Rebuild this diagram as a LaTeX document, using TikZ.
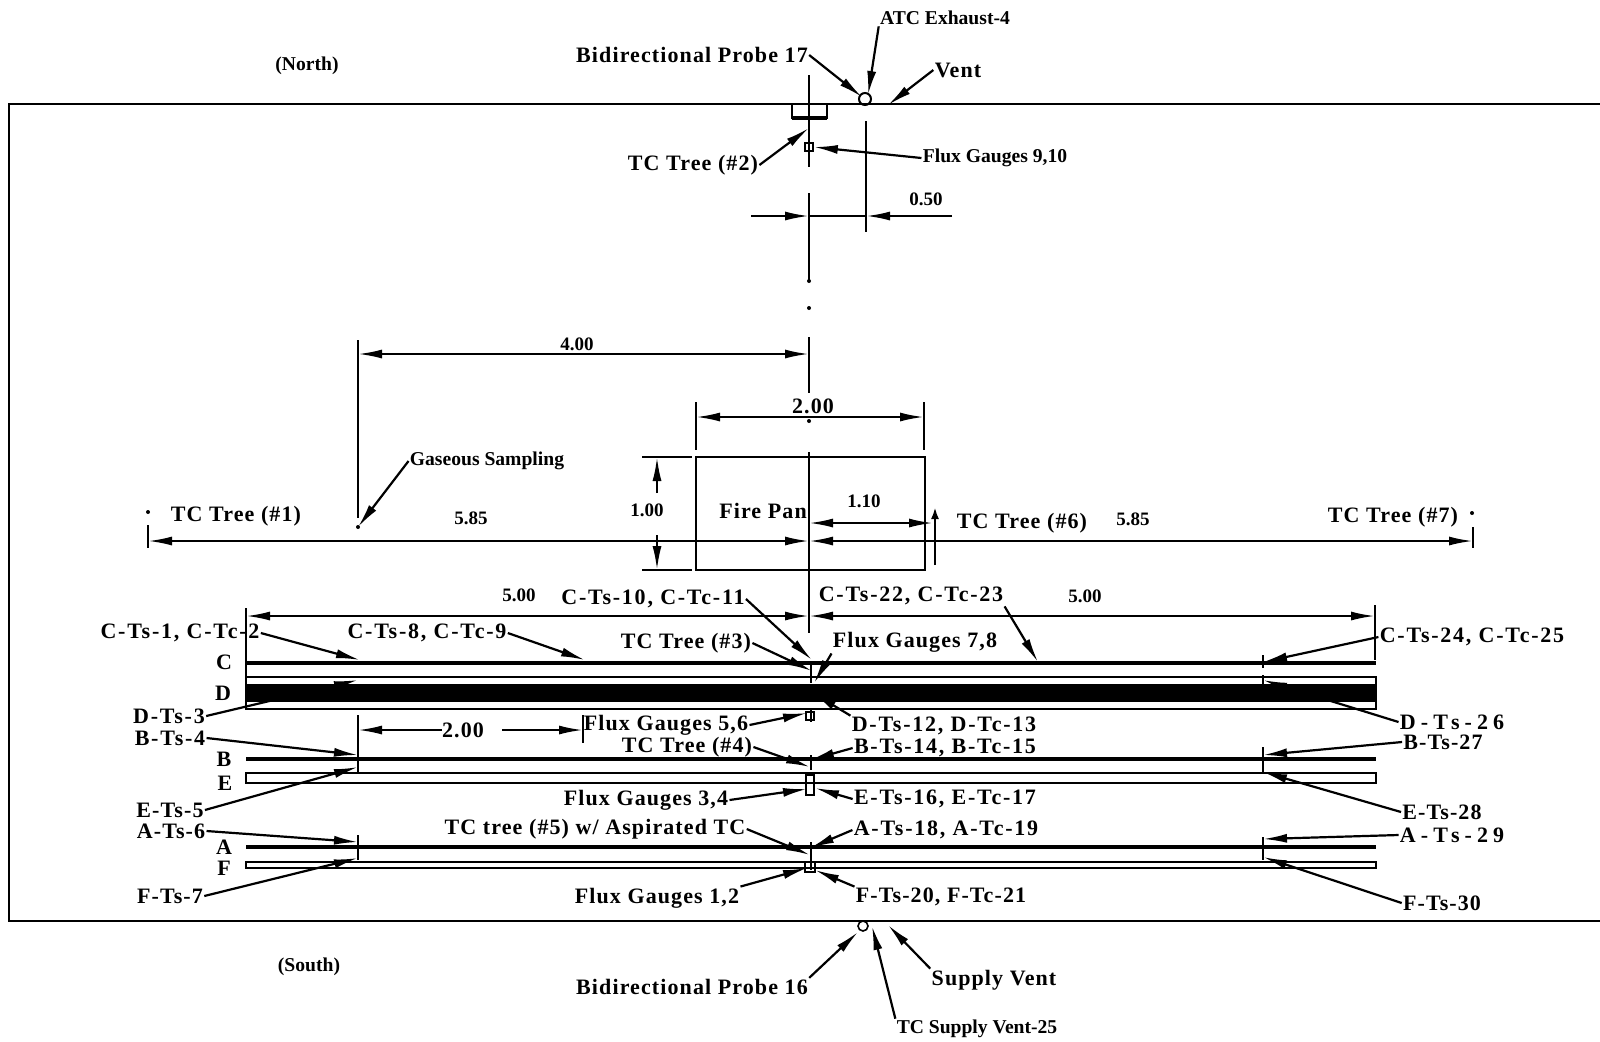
\documentclass[tikz,border=0pt]{standalone}
\usepackage{fontspec}
\setmainfont{Liberation Serif}
\newfontfamily\widefont[LetterSpace=5]{Liberation Serif}
\newfontfamily\tagfont[LetterSpace=8]{Liberation Serif}
\newfontfamily\tagwfont[LetterSpace=23]{Liberation Serif}
\usetikzlibrary{arrows.meta}
\tikzstyle{labelb}=[inner sep=0.5pt,font=\fontsize{11}{12}\widefont\bfseries]
\tikzstyle{labelt}=[inner sep=0.5pt,font=\fontsize{11}{12}\tagfont\bfseries]
\tikzstyle{labelw}=[inner sep=0.5pt,font=\fontsize{11}{12}\tagwfont\bfseries]
\tikzstyle{labels}=[inner sep=0.5pt,font=\fontsize{9.8}{10}\selectfont\bfseries]
\tikzstyle{dimnum}=[inner sep=0.5pt,font=\fontsize{9.5}{11}\selectfont\bfseries]
\tikzstyle{pip}=[circle,fill=black,minimum size=2pt,inner sep=0pt]
\tikzstyle{lead}=[line width=1.1pt,-{Latex[length=12pt,width=4.5pt]}]
\tikzstyle{dimboth}=[line width=1.1pt,{Latex[length=12pt,width=4.5pt]}-{Latex[length=12pt,width=4.5pt]}]
\tikzstyle{dimend}=[line width=1.1pt,-{Latex[length=12pt,width=4.5pt]}]
\tikzstyle{wall}=[line width=1pt]
\tikzstyle{tick}=[line width=1.2pt]
\tikzstyle{beam}=[line width=2pt]

\begin{document}
\begin{tikzpicture}[x=0.5pt,y=-0.5pt]
    \useasboundingbox (0,0) rectangle (1600,1041);
    % room outline, open on the right
    \draw[wall] (1600,104) -- (9,104) -- (9,921) -- (1600,921);

    % top and bottom notes
    \node[labels] (north) at (307,66) {(North)};
    \node[labels] (south) at (309,967) {(South)};
    \node[labels] (atc) at (945,18) {ATC Exhaust-4};
    \node[labelb] (bp17) at (692,55) {Bidirectional Probe 17};
    \node[labelb] (vent) at (958,70) {Vent};
    \node[labelb] (tc2) at (693,165) {TC Tree (\#2)};
    \node[labels] (fg910) at (995,158) {Flux Gauges 9,10};
    \node[labelb] (bp16) at (692,987) {Bidirectional Probe 16};
    \node[labelb] (sv) at (994,980) {Supply Vent};
    \node[labels] (tsv25) at (977,1029) {TC Supply Vent-25};

    % overall plan labels
    \node[labels] (gas) at (487,461) {Gaseous Sampling};
    \node[labelb] (tc1) at (236,516) {TC Tree (\#1)};
    \node[labelb] (tc6) at (1022,523) {TC Tree (\#6)};
    \node[labelb] (tc7) at (1393,517) {TC Tree (\#7)};
    \node[labelb] (pan) at (763,511) {Fire Pan};

    % dimensions
    \node[dimnum] (d050) at (926,199) {0.50};
    \node[dimnum] (d400) at (577,344) {4.00};
    \node[labelb] (d200) at (813,406) {2.00};
    \node[dimnum] (d100) at (647,510) {1.00};
    \node[dimnum] (d110) at (864,501) {1.10};
    \node[dimnum] (d585a) at (471,518) {5.85};
    \node[dimnum] (d585b) at (1133,519) {5.85};
    \node[dimnum] (d500a) at (519,595) {5.00};
    \node[dimnum] (d500b) at (1085,596) {5.00};
    \node[labelb] (d200b) at (463,730) {2.00};

    % tray letters
    \node[labelb] (trayc) at (224,662) {C};
    \node[labelb] (trayd) at (223,693) {D};
    \node[labelb] (trayb) at (224,759) {B};
    \node[labelb] (traye) at (225,783) {E};
    \node[labelb] (traya) at (224,847) {A};
    \node[labelb] (trayf) at (224,868) {F};

    % left column
    \node[labelt] (cts1) at (180,633) {C-Ts-1, C-Tc-2};
    \node[labelt] (cts8) at (427,633) {C-Ts-8, C-Tc-9};
    \node[labelt] (dts3) at (169,716) {D-Ts-3};
    \node[labelt] (bts4) at (170,738) {B-Ts-4};
    \node[labelb] (ets5) at (170,810) {E-Ts-5};
    \node[labelb] (ats6) at (171,831) {A-Ts-6};
    \node[labelb] (fts7) at (170,896) {F-Ts-7};

    % centre column
    \node[labelt] (cts10) at (653,599) {C-Ts-10, C-Tc-11};
    \node[labelt] (cts22) at (911,596) {C-Ts-22, C-Tc-23};
    \node[labelb] (tc3) at (686,643) {TC Tree (\#3)};
    \node[labelb] (fg78) at (915,642) {Flux Gauges 7,8};
    \node[labelb] (fg56) at (666,725) {Flux Gauges 5,6};
    \node[labelt] (dts12) at (944,726) {D-Ts-12, D-Tc-13};
    \node[labelb] (tc4) at (687,747) {TC Tree (\#4)};
    \node[labelt] (bts14) at (945,748) {B-Ts-14, B-Tc-15};
    \node[labelb] (fg34) at (646,800) {Flux Gauges 3,4};
    \node[labelt] (ets16) at (945,799) {E-Ts-16, E-Tc-17};
    \node[labelb] (tc5) at (595,829) {TC tree (\#5) w/ Aspirated TC};
    \node[labelt] (ats18) at (946,830) {A-Ts-18, A-Tc-19};
    \node[labelb] (fg12) at (657,898) {Flux Gauges 1,2};
    \node[labelb] (fts20) at (941,897) {F-Ts-20, F-Tc-21};

    % right column
    \node[labelt] (cts24) at (1472,637) {C-Ts-24, C-Tc-25};
    \node[labelw] (dts26) at (1452,722) {D-Ts-26};
    \node[labelb] (bts27) at (1443,742) {B-Ts-27};
    \node[labelb] (ets28) at (1442,812) {E-Ts-28};
    \node[labelw] (ats29) at (1452,835) {A-Ts-29};
    \node[labelb] (fts30) at (1442,903) {F-Ts-30};

    % stray dots
    \node[pip] (p1) at (809,281) {};
    \node[pip] (p2) at (809,308) {};
    \node[pip] (p3) at (809,421) {};
    \node[pip] (p4) at (148,512) {};
    \node[pip] (p5) at (1472,513) {};
    \node[pip] (p6) at (358,527) {};

    % vent circles
    \node[draw,circle,line width=1pt,minimum size=6pt,inner sep=0pt] (vtop) at (865,99) {};
    \node[draw,circle,line width=0.8pt,minimum size=5pt,inner sep=0pt] (vbot) at (863,926) {};

    % trays
    \draw[beam] (246,663) -- (1376,663);
    \draw[wall] (246,677) rectangle (1376,709);
    \fill (246,684) rectangle (1376,702);
    \draw[beam] (246,759) -- (1376,759);
    \draw[wall,line width=1.2pt] (246,773) rectangle (1376,783);
    \draw[beam] (246,847) -- (1376,847);
    \draw[wall,line width=1.2pt] (246,862) rectangle (1376,868);

    % centre line and witness lines
    \foreach \xa/\ya/\xb/\yb in {809/75/809/167,809/193/809/281,809/337/809/393,809/452/809/633,
        866/121/866/232,358/340/358/518,696/402/696/450,924/402/924/450,
        148/525/148/548,1473/527/1473/548,246/608/246/708,1375/605/1375/660,
        642/457/692/457,642/570/692/570,358/715/358/772,358/835/358/860,583/715/583/743,
        1263/655/1263/668,1263/675/1263/685,1263/747/1263/773,1263/837/1263/860,
        811/664/811/683,811/708/811/722,811/755/811/770,811/842/811/870}
    \draw[tick] (\xa,\ya) -- (\xb,\yb);

    % probe and gauge boxes
    \draw[wall] (792,104) rectangle (827,118);
    \draw[beam] (792,118) -- (827,118);
    \node[draw,line width=0.8pt,minimum size=4pt,inner sep=0pt] (fgtop) at (809,147) {};
    \node[draw,line width=0.8pt,minimum size=4pt,inner sep=0pt] (fg5) at (810,716) {};
    \node[draw,line width=0.8pt,minimum width=4pt,minimum height=10pt,inner sep=0pt] (fg3) at (810,785) {};
    \node[draw,line width=0.8pt,minimum size=5pt,inner sep=0pt] (fg1) at (810,867) {};

    % fire pan
    \draw[tick] (696,457) rectangle (925,570);

    % arrow targets
    \foreach \name/\x/\y in {tatc/868/95,tb17/862/97,tvent/888/105,ttc2/809/128,
        ttc1gas/358/527,tc1a/360/660,tc8a/585/660,td3a/358/680,tb4a/358/755,te5a/358/767,
        ta6a/358/842,tf7a/358/858,tc10a/812/660,tc22a/1038/662,ttc3/812/671,tf78/814/683,
        tf56/807/713,td12/813/693,ttc4/810/767,tb14/810/760,tf34/807/789,te16/815/788,
        ttc5/810/855,ta18/810/848,tf12/807/868,tf20/815/870,tc24a/1263/662,td26/1263/680,
        tb27/1263/755,te28/1263/772,ta29/1263/839,tf30/1263/857,tb16/858/932,tsv/888/925,
        ttsv/872/926}
    \coordinate (\name) at (\x,\y);

    % leaders
    \foreach \from/\to in {atc.south west/tatc,bp17.east/tb17,vent.west/tvent,tc2.east/ttc2,
        gas.west/ttc1gas,cts1.east/tc1a,cts8.east/tc8a,dts3.east/td3a,bts4.east/tb4a,
        ets5.east/te5a,ats6.east/ta6a,fts7.east/tf7a,cts10.east/tc10a,cts22.south east/tc22a,
        tc3.east/ttc3,fg78.south west/tf78,fg56.east/tf56,dts12.north west/td12,tc4.east/ttc4,
        bts14.west/tb14,fg34.east/tf34,ets16.west/te16,tc5.east/ttc5,ats18.west/ta18,
        fg12.north east/tf12,fts20.north west/tf20,cts24.west/tc24a,dts26.west/td26,
        bts27.west/tb27,ets28.west/te28,ats29.west/ta29,fts30.west/tf30,
        bp16.north east/tb16,sv.north west/tsv,tsv25.north west/ttsv,fg910.west/fgtop.east}
    \draw[lead] (\from) -- (\to);

    % dimension ends
    \foreach \name/\x/\y in {a1/358/354,a2/809/354,b1/696/417,b2/924/417,c1/148/541,c2/809/541,
        c3/1473/541,e1/809/523,e2/933/523,f1/246/616,f2/809/616,f3/1375/616,g1/358/730,g2/442/730,
        g3/502/730,g4/583/730,h1/751/216,h2/809/216,h3/952/216,h4/866/216,i1/657/493,i2/657/457,
        i3/657/535,i4/657/570,j1/935/565,j2/935/507}
    \coordinate (\name) at (\x,\y);

    \foreach \from/\to in {a1/a2,b1/b2,c1/c2,c2/c3,e1/e2,f1/f2,f2/f3}
    \draw[dimboth] (\from) -- (\to);
    \foreach \from/\to in {g2/g1,g3/g4,h1/h2,h3/h4,i1/i2,i3/i4}
    \draw[dimend] (\from) -- (\to);
    \draw[line width=1.1pt] (h2) -- (h4);
    \draw[line width=1.2pt,-{Latex[length=6pt,width=4pt]}] (j1) -- (j2);
\end{tikzpicture}
\end{document}
